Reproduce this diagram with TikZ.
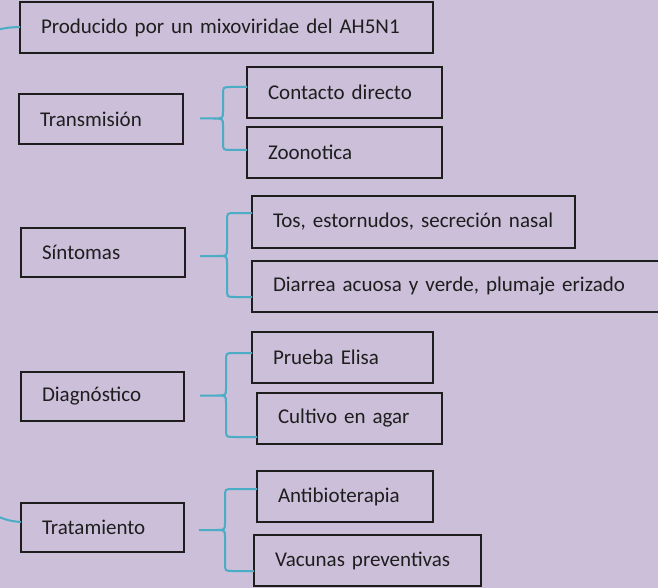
\documentclass[tikz,border=0pt]{standalone}
\usepackage{fontspec}
\setmainfont{Carlito}
\usetikzlibrary{calc}
\definecolor{bg}{HTML}{CBBFD9}
\definecolor{brc}{HTML}{4BACC6}
\definecolor{ink}{HTML}{1E1E1E}
\tikzset{
  box/.style={draw=ink, line width=1.1pt, anchor=north west, inner xsep=21pt, inner ysep=0pt,
    outer sep=0pt, align=left, text=ink, font=\fontsize{21}{25}\selectfont},
  bracec/.style={draw=brc, line width=2pt}
}
\newcommand\mybrace[8]{%
  \draw[bracec] let \p1=([xshift=#2pt,yshift=#3pt]#1.east),
                    \p2=([yshift=#6pt]#5.west),
                    \p3=([yshift=#8pt]#7.west) in
    (\p2) -- ({#4pt+8pt},\y2) .. controls (#4pt,\y2) .. (#4pt,{\y2-8pt})
      -- (#4pt,{\y1+7pt}) .. controls (#4pt,\y1) .. ({#4pt-10pt},\y1) -- (\p1)
    (\p3) -- ({#4pt+8pt},\y3) .. controls (#4pt,\y3) .. (#4pt,{\y3+8pt})
      -- (#4pt,{\y1-7pt}) .. controls (#4pt,\y1) .. ({#4pt-10pt},\y1);
}
\begin{document}
\begin{tikzpicture}[x=1pt,y=-1pt]
\path[use as bounding box, fill=bg] (0,0) rectangle (658,588);
\clip (0,0) rectangle (658,588);
% boxes
\node[box, text width=371pt, minimum height=51pt] (prod) at (20,2) {Producido por un mixoviridae del AH5N1};
\node[box, text width=122pt, minimum height=50pt] (trans) at (19,94) {Transmisión};
\node[box, text width=153pt, minimum height=51pt] (cont) at (247,67) {Contacto directo};
\node[box, text width=153pt, minimum height=51pt] (zoo) at (247,127) {Zoonotica};
\node[box, text width=122pt, minimum height=49pt] (sint) at (21,228) {Síntomas};
\node[box, text width=281pt, minimum height=52pt] (tos) at (252,196) {Tos, estornudos, secreción nasal};
\node[box, text width=378pt, minimum height=51pt] (diar) at (252,261) {Diarrea acuosa y verde, plumaje erizado};
\node[box, text width=121pt, minimum height=49pt] (diag) at (21,372) {Diagnóstico};
\node[box, text width=139pt, minimum height=51pt] (prue) at (252,332) {Prueba Elisa};
\node[box, text width=143pt, minimum height=51pt] (cult) at (257,393) {Cultivo en agar};
\node[box, text width=121pt, minimum height=49pt] (trat) at (21,503) {Tratamiento};
\node[box, text width=134pt, minimum height=51pt] (anti) at (257,471) {Antibioterapia};
\node[box, text width=185pt, minimum height=51pt] (vac) at (254,535) {Vacunas preventivas};
% braces
\mybrace{trans}{17}{0.5}{223}{cont}{5.5}{zoo}{2.5}
\mybrace{sint}{15}{-3.5}{227}{tos}{9}{diar}{-10.5}
\mybrace{diag}{16}{1}{226}{prue}{4.5}{cult}{-18.5}
\mybrace{trat}{15}{-2.5}{225}{anti}{7.5}{vac}{-10.5}
% connectors coming from off the picture
\coordinate (offtop) at (-4,30);
\coordinate (offbot) at (-4,516);
\draw[bracec] (offtop) .. controls (8,27.5) .. ([yshift=0.5pt]prod.west);
\draw[bracec] (offbot) .. controls (10,521) .. ([yshift=5.5pt]trat.west);
\end{tikzpicture}
\end{document}
